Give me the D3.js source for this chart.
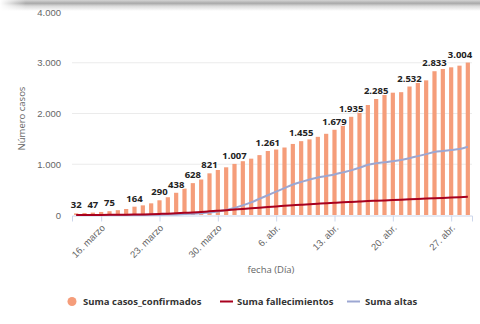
<!DOCTYPE html>
<html>
<head>
<meta charset="utf-8">
<script src="https://cdn.jsdelivr.net/npm/d3@7"></script>
<style>
  html, body { margin: 0; padding: 0; background: #fff; }
  svg { display: block; font-family: "Open Sans", "DejaVu Sans", sans-serif; }
</style>
</head>
<body>
<div id="chart"></div>
<script>
// ---------- data ----------
const startDay = [2020, 2, 13]; // 13 marzo 2020 (first bar)
const confirmados = [32, 40, 47, 60, 75, 95, 118, 164, 190, 230,
  290, 350, 438, 520, 628, 700, 821, 887, 940, 1007,
  1060, 1110, 1180, 1261, 1290, 1330, 1400, 1455, 1490, 1540,
  1600, 1679, 1890, 1935, 2036, 2167, 2285, 2365, 2410, 2420,
  2532, 2614, 2653, 2833, 2877, 2910, 2943, 3004];
const fallecimientos = [0, 0, 1, 2, 3, 4, 6, 9, 12, 16,
  21, 27, 34, 42, 51, 61, 72, 83, 95, 107,
  120, 132, 144, 156, 168, 180, 191, 202, 212, 222,
  232, 241, 250, 258, 266, 274, 281, 288, 295, 302,
  309, 316, 323, 330, 337, 344, 351, 358];
const altas = [0, 0, 0, 0, 0, 0, 0, 1, 2, 3,
  5, 8, 12, 18, 26, 36, 50, 70, 100, 140,
  190, 250, 320, 390, 460, 530, 600, 650, 700, 740,
  770, 800, 840, 880, 930, 990, 1020, 1040, 1060, 1085,
  1120, 1160, 1200, 1240, 1260, 1280, 1300, 1345];
const labeledDays = [0, 2, 4, 7, 10, 12, 14, 16, 19, 23, 27, 31, 33, 36, 40, 43, 47];
const yTicks = [0, 1000, 2000, 3000, 4000];
const xTickDays = [3, 10, 17, 24, 31, 38, 45]; // 16 marzo ... 27 abr.
const monthNames = ["ene.", "feb.", "marzo", "abr.", "mayo", "jun.", "jul.", "ago.", "sept.", "oct.", "nov.", "dic."];
const seriesNames = ["Suma casos_confirmados", "Suma fallecimientos", "Suma altas"];
const colors = { bar: "#f59d7a", dead: "#a8001e", alta: "#9ca7d2" };

// ---------- setup ----------
const W = 480, H = 324;
const dayMs = 864e5;
const dates = confirmados.map((_, i) => new Date(Date.UTC(startDay[0], startDay[1], startDay[2] + i)));
const locale = d3.formatLocale({ decimal: ",", thousands: ".", grouping: [3], currency: ["", "€"] });
const fmt = locale.format(",d");

const svg = d3.select("#chart").append("svg").attr("width", W).attr("height", H);

// top shadow strip
const defs = svg.append("defs");
const g1 = defs.append("linearGradient").attr("id", "topShade").attr("x1", 0).attr("y1", 0).attr("x2", 0).attr("y2", 1);
g1.append("stop").attr("offset", 0).attr("stop-color", "#d4d4d4");
g1.append("stop").attr("offset", 0.3).attr("stop-color", "#a9a9a9");
g1.append("stop").attr("offset", 0.55).attr("stop-color", "#d9d9d9");
g1.append("stop").attr("offset", 1).attr("stop-color", "#ffffff");
const g2 = defs.append("linearGradient").attr("id", "leftFade").attr("x1", 0).attr("y1", 0).attr("x2", 1).attr("y2", 0);
g2.append("stop").attr("offset", 0).attr("stop-color", "#fff").attr("stop-opacity", 1);
g2.append("stop").attr("offset", 1).attr("stop-color", "#fff").attr("stop-opacity", 0);
svg.append("rect").attr("x", 0).attr("y", 0).attr("width", W).attr("height", 11).attr("fill", "url(#topShade)");
svg.append("rect").attr("x", 0).attr("y", 0).attr("width", 26).attr("height", 11).attr("fill", "url(#leftFade)");

const plotL = 72, plotR = 472, plotT = 12, plotB = 215;
const x = d3.scaleUtc()
  .domain([new Date(+dates[0] - dayMs / 2), new Date(+dates[dates.length - 1] + dayMs / 2)])
  .range([plotL, plotR]);
const y = d3.scaleLinear().domain([0, 4000]).range([plotB, plotT]);

// gridlines
svg.append("g").selectAll("line").data(yTicks.filter(t => t > 0 && t < 4000)).join("line")
  .attr("x1", plotL).attr("x2", plotR)
  .attr("y1", d => y(d)).attr("y2", d => y(d))
  .attr("stroke", "#ebebeb").attr("stroke-width", 1);

// y axis labels
const yAxis = d3.axisLeft(y).tickValues(yTicks).tickFormat(d => fmt(d)).tickSize(0).tickPadding(0);
const yg = svg.append("g").attr("transform", `translate(${plotL - 11},0)`).call(yAxis);
yg.select(".domain").remove();
yg.selectAll("text").attr("fill", "#666").attr("font-size", "9.5px").attr("dy", "0.34em");

// y title
svg.append("text").attr("transform", `translate(25,${(plotT + plotB) / 2 + 5}) rotate(-90)`)
  .attr("text-anchor", "middle").attr("fill", "#666").attr("font-size", "9.5px").text("Número casos");

// bars
const bw = 4.2;
svg.append("g").selectAll("rect").data(confirmados).join("rect")
  .attr("x", (d, i) => x(dates[i]) - bw / 2)
  .attr("y", d => y(d))
  .attr("width", bw)
  .attr("height", d => plotB - y(d))
  .attr("fill", colors.bar);

// x axis
const xAxis = d3.axisBottom(x)
  .tickValues(xTickDays.map(i => dates[i]))
  .tickFormat(d => `${d.getUTCDate()}. ${monthNames[d.getUTCMonth()]}`)
  .tickSize(6).tickPadding(4);
const xg = svg.append("g").attr("transform", `translate(0,${plotB + 0.5})`).call(xAxis);
xg.select(".domain").attr("stroke", "#ccd6eb");
xg.selectAll(".tick line").attr("stroke", "#ccd6eb");
xg.selectAll("text").attr("fill", "#666").attr("font-size", "9.5px")
  .attr("text-anchor", "end").attr("dy", null).attr("y", 0)
  .attr("transform", "translate(4,13) rotate(-45)");

// lines
const lineGen = d3.line().x((d, i) => x(dates[i])).y(d => y(d)).curve(d3.curveMonotoneX);
svg.append("path").datum(altas).attr("d", lineGen).attr("fill", "none")
  .attr("stroke", colors.alta).attr("stroke-width", 2);
svg.append("path").datum(fallecimientos).attr("d", lineGen).attr("fill", "none")
  .attr("stroke", colors.dead).attr("stroke-width", 2);

// data labels
svg.append("g").selectAll("text").data(labeledDays).join("text")
  .attr("x", i => Math.min(x(dates[i]), plotR - 12))
  .attr("y", i => y(confirmados[i]) - 5)
  .attr("text-anchor", "middle")
  .attr("font-size", "9.5px").attr("font-weight", "bold")
  .attr("fill", "#222")
  .attr("stroke", "#fff").attr("stroke-width", 2).attr("paint-order", "stroke").attr("stroke-linejoin", "round")
  .text(i => fmt(confirmados[i]));

// x title
svg.append("text").attr("x", 271).attr("y", 273).attr("text-anchor", "middle")
  .attr("fill", "#666").attr("font-size", "9.5px").text("fecha (Día)");

// legend
const lg = svg.append("g").attr("font-size", "9.5px").attr("font-weight", "bold").attr("fill", "#333");
lg.append("circle").attr("cx", 72).attr("cy", 301.5).attr("r", 4.5).attr("fill", colors.bar);
lg.append("text").attr("x", 83).attr("y", 305).text(seriesNames[0]);
lg.append("line").attr("x1", 220).attr("x2", 233).attr("y1", 301.5).attr("y2", 301.5)
  .attr("stroke", colors.dead).attr("stroke-width", 2);
lg.append("text").attr("x", 237).attr("y", 305).text(seriesNames[1]);
lg.append("line").attr("x1", 347).attr("x2", 360).attr("y1", 301.5).attr("y2", 301.5)
  .attr("stroke", colors.alta).attr("stroke-width", 2);
lg.append("text").attr("x", 365).attr("y", 305).text(seriesNames[2]);
</script>
</body>
</html>
